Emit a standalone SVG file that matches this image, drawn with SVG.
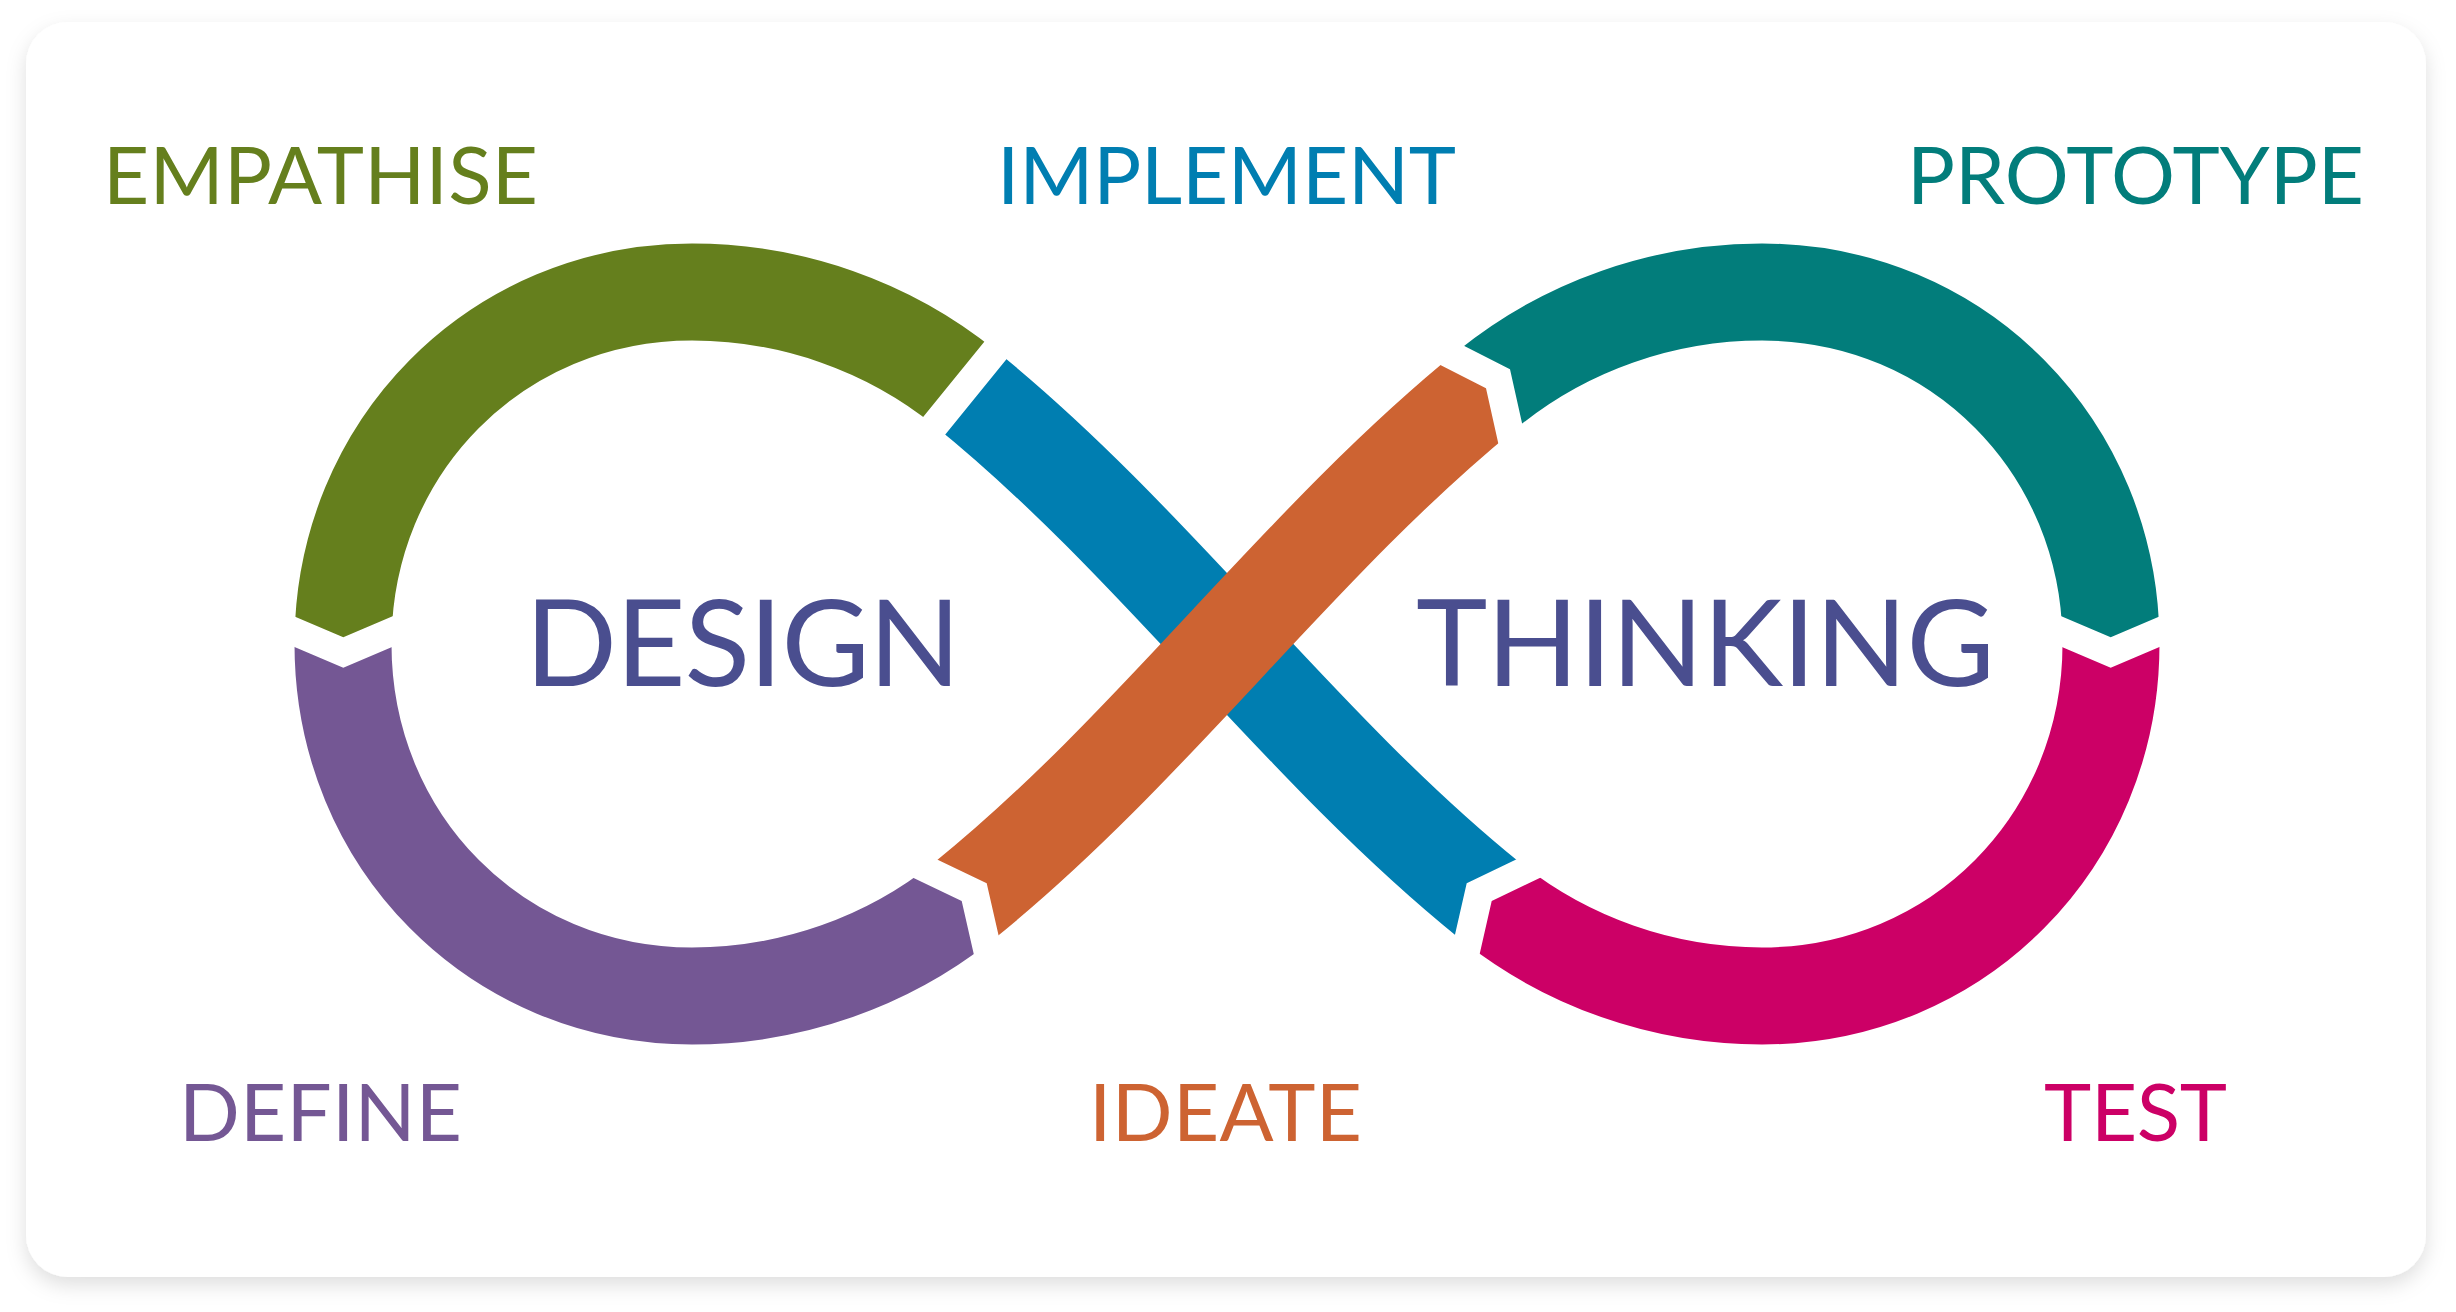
<svg xmlns="http://www.w3.org/2000/svg" width="2456" height="1312" viewBox="0 0 2456 1312">
<defs>
<style>
.band{fill:none;stroke-width:97;stroke-linecap:butt;stroke-linejoin:round}
.lbl{font-family:Lato,"Open Sans","Liberation Sans",sans-serif;font-size:80px}
.title{font-family:Lato,"Open Sans","Liberation Sans",sans-serif;font-size:121px;fill:#4a4e8f}
</style>
<filter id="shadow" x="-5%" y="-5%" width="110%" height="115%">
<feDropShadow dx="0" dy="8" stdDeviation="10" flood-color="#000" flood-opacity="0.13"/>
</filter>
<clipPath id="clip-green"><polygon points="150,150 1047.4,150 1047.4,264.1 858.1,496.9 436.6,597.5 343.3,637.3 250,597.5 150,597.5"/></clipPath>
<clipPath id="clip-purple"><polygon points="150,606.7 200,606.7 343.3,667.8 486.6,606.7 853.5,849.2 961.7,901 988.3,1018 988.3,1100 150,1100"/></clipPath>
<clipPath id="clip-orange"><polygon points="824.3,805.5 986.7,883.3 1026.7,1058.8 1700,1058.8 1700,564 1525.2,564 1486,388.3 1325.6,306.6 824.3,306.6"/></clipPath>
<clipPath id="clip-teal"><polygon points="1376.4,301.2 1510,369.3 1542.7,515.7 2017.4,597.5 2110.7,637.3 2204,597.5 2300,597.5 2300,150 1376.4,150"/></clipPath>
<clipPath id="clip-magenta"><polygon points="2300,606.7 2254,606.7 2110.7,667.8 1967.4,606.7 1599.9,849.2 1491.7,901 1465.1,1018 1465.1,1100 2300,1100"/></clipPath>
<clipPath id="clip-blue"><polygon points="1057.2,296.9 1600,296.9 1600,819.4 1466.7,883.3 1426.7,1058.8 893.1,1058.8 893.1,498.7"/></clipPath>
</defs>
<rect width="2456" height="1312" fill="#ffffff"/>
<rect x="26" y="22" width="2400" height="1255" rx="42" ry="42" fill="#ffffff" filter="url(#shadow)"/>

<g id="define">
<path class="band" stroke="#745794" clip-path="url(#clip-purple)" d="M343,598 L343,644 C343,841.1 496.6,996 692,996 C791,996 888,962.2 965,900 L1000,871.7"/>
<text class="lbl" fill="#745794" x="179" y="1141" textLength="283" lengthAdjust="spacing">DEFINE</text>
</g>

<g id="empathise">
<path class="band" stroke="#657f1d" clip-path="url(#clip-green)" d="M1000,416.3 L965,388 C888,325.8 791,292 692,292 C496.6,292 343,446.9 343,644 L343,690"/>
<text class="lbl" fill="#657f1d" x="103" y="204" textLength="435" lengthAdjust="spacing">EMPATHISE</text>
</g>

<g id="prototype">
<path class="band" stroke="#027d7b" clip-path="url(#clip-teal)" d="M1454,416.3 L1489,388 C1566,325.8 1663,292 1762,292 C1957.4,292 2111,446.9 2111,644 L2111,690"/>
<text class="lbl" fill="#027d7b" x="1907" y="204" textLength="457" lengthAdjust="spacing">PROTOTYPE</text>
</g>

<g id="test">
<path class="band" stroke="#cc0066" clip-path="url(#clip-magenta)" d="M2111,598 L2111,644 C2111,841.1 1957.4,996 1762,996 C1663,996 1566,962.2 1489,900 L1454,871.7"/>
<text class="lbl" fill="#cc0066" x="2044" y="1141" textLength="183" lengthAdjust="spacing">TEST</text>
</g>

<g id="implement">
<path class="band" stroke="#007eb1" clip-path="url(#clip-blue)" d="M930,359.7 L965,388 C1059.9,464.6 1143.8,554.8 1227,644 C1310.2,733.2 1394.1,823.4 1489,900 L1524,928.3"/>
<text class="lbl" fill="#007eb1" x="997" y="204" textLength="459" lengthAdjust="spacing">IMPLEMENT</text>
</g>

<g id="ideate">
<path class="band" stroke="#cd6332" clip-path="url(#clip-orange)" d="M930,928.3 L965,900 C1059.9,823.4 1143.8,733.2 1227,644 C1310.2,554.8 1394.1,464.6 1489,388 L1524,359.7"/>
<text class="lbl" fill="#cd6332" x="1089" y="1141" textLength="273" lengthAdjust="spacing">IDEATE</text>
</g>

<g id="title">
<text class="title" x="525" y="686" textLength="436" lengthAdjust="spacing">DESIGN</text>
<text class="title" x="1416" y="686" textLength="579" lengthAdjust="spacing">THINKING</text>
</g>
</svg>
